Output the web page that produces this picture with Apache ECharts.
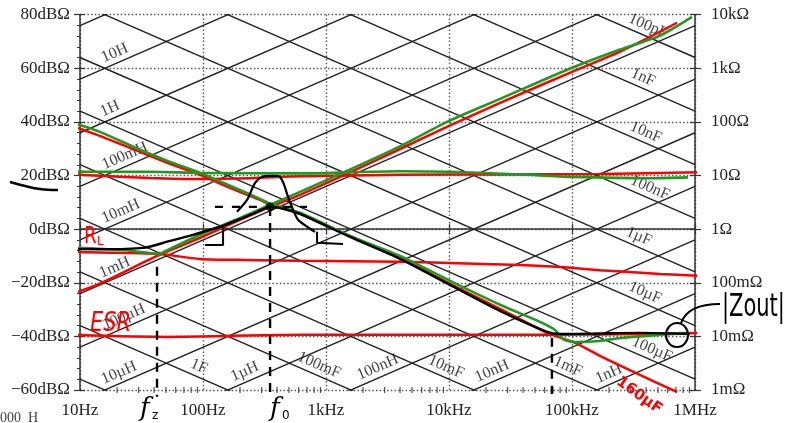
<!DOCTYPE html>
<html><head><meta charset="utf-8">
<script src="https://cdn.jsdelivr.net/npm/echarts@6/dist/echarts.min.js"></script>
<style>html,body{margin:0;padding:0;background:#fff}#c{width:788px;height:423px}</style>
</head><body><div id="c"></div>
<script>
// ---------- axis tick labels ----------
const freqTickLabels = ['10Hz','100Hz','1kHz','10kHz','100kHz','1MHz'];
const ohmTickLabels = ['1mΩ','10mΩ','100mΩ','1Ω','10Ω','100Ω','1kΩ','10kΩ'];
const minorFreqs = [];
[10,100,1000,10000,100000].forEach(d => { for (let k = 2; k <= 9; k++) minorFreqs.push(k*d); });

// ---------- reactance chart lattice ----------
const inductances = [1e-10,1e-9,1e-8,1e-7,1e-6,1e-5,1e-4,1e-3,1e-2,1e-1,1,10,100];
const capacitances = [1e-11,1e-10,1e-9,1e-8,1e-7,1e-6,1e-5,1e-4,1e-3,1e-2,1e-1,1,10];
const inductorLabelText = ['10H','1H','100mH','10mH','1mH','100µH','10µH','1µH','100nH','10nH','1nH'];
const inductorLabelValue = [10,1,0.1,0.01,1e-3,1e-4,1e-5,1e-6,1e-7,1e-8,1e-9];
const inductorLabelFreq = [20.7,18.9,25,23.2,20.7,24.6,22.4,236,2840,24200,215000];
const capacitorLabelText = ['100pF','1nF','10nF','100nF','1µF','10µF','100µF','1mF','10mF','100mF','1F'];
const capacitorLabelValue = [1e-10,1e-9,1e-8,1e-7,1e-6,1e-5,1e-4,1e-3,1e-2,1e-1,1];
const capacitorLabelFreq = [385000,351000,370000,400000,325000,364000,415000,86100,8770,815,86.1];

// ---------- measured / sketched curves  [Hz, dBΩ] ----------
const redTop = [[7.69,20.6],[14.5,19.9],[37.1,19.1],[94.6,18.7],[241,19.0],[615,19.7],[4000,20.3],[26000,20.4],[169000,20.6],[1080000,21.2]];
const greenTop = [[7.69,21.5],[14.5,21.4],[37.1,21.4],[94.6,21.0],[615,20.8],[4000,21.6],[10000,21.4],[37800,20.4],[100000,19.5],[431000,19.0],[877000,19.3]];
const redCap = [[9.63,37.8],[14.5,34.8],[30.8,28.8],[53.9,24.4],[94.6,20.3],[166,15.4],[291,10.9],[351,9.1],[615,5.7],[1374,-1.4],[4000,-10.7],[10190,-20.4],[26000,-29.7],[62600,-38.7],[106000,-42.4],[169000,-47.3],[357000,-54.4],[714000,-60.7]];
const greenCap = [[8.29,40.0],[14.5,36.3],[30.8,29.6],[53.9,25.1],[94.6,21.0],[166,16.2],[291,11.3],[351,9.5],[615,6.1],[1567,-2.5],[4000,-10.0],[10190,-19.3],[26000,-28.2],[54900,-34.6],[72700,-37.6],[84500,-41.0],[106000,-42.1],[169000,-41.7],[246000,-40.6],[519000,-39.4],[877000,-38.7]];
const redRL = [[8.77,-8.5],[14.5,-8.7],[42.3,-9.2],[94.6,-11.1],[241,-11.5],[615,-11.8],[4000,-12.2],[10000,-12.6],[37800,-13.4],[79800,-14.1],[169000,-15.3],[519000,-16.7],[1060000,-17.4]];
const redL = [[8.61,-24.1],[14.5,-20.3],[42.3,-10.0],[94.6,-3.2],[200,3.5],[351,8.3],[615,12.8],[1426,20.3],[4000,29.9],[10000,38.5],[26000,47.1],[100000,58.7],[246000,66.2],[714000,77.0]];
const greenL = [[44.7,-9.2],[94.6,-2.1],[200,4.2],[351,9.1],[615,13.9],[1426,21.4],[4000,30.9],[10000,40.4],[26000,48.6],[100000,60.2],[246000,67.0],[519000,72.2],[945000,79.2]];
const greenRL = [[8.29,-6.8],[21.1,-7.7],[44.7,-9.4]];
const redESR = [[7.98,-39.4],[50.9,-40.2],[615,-39.4],[10000,-39.4],[66200,-39.4],[357000,-39.1],[1210000,-38.7]];
const blackZout = [[7.28,-7.4],[14.5,-7.5],[32.5,-7.0],[53.9,-4.4],[82.9,-2.1],[137,0.9],[200,3.8],[265,6.1],[351,8.3],[464,7.5],[615,5.7],[1567,-2.9],[4000,-11.1],[10190,-20.8],[26000,-30.5],[62600,-38.3],[79800,-39.1],[169000,-38.9],[357000,-38.7],[910000,-39.1]];
const blackBump = [[189,6.5],[228,10.9],[265,17.3],[302,19.5],[338,19.9],[407,19.9],[447,17.6],[491,12.1],[540,7.2],[592,3.5],[701,0.9],[815,-1.0]];
const bracketLeft = [[104,-5.9],[145.6,-5.9],[145.6,0.9]];
const bracketRight = [[846,-1.0],[846,-5.1],[1374,-5.5]];
const crossDash = [[125,8.3],[701,8.3]];
const fzLine = [[42.3,-14],[42.3,-62.5]];
const f0Line = [[351,8.3],[351,-62.5]];
const f3Line = [[68700,-40.5],[68700,-61.5]];
const f0Point = [[351,8.3]];

// ---------- helpers ----------
const zL = (f, L) => 20*Math.log10(2*Math.PI*f*L);
const zC = (f, C) => -20*Math.log10(2*Math.PI*f*C);
const SERIF = '"Liberation Serif","DejaVu Serif",serif';
const ANG = Math.atan(2.68*20/123)*180/Math.PI;

const series = [];
inductances.forEach(L => series.push({type:'line', data:[[10,zL(10,L)],[1e6,zL(1e6,L)]], showSymbol:false, silent:true, z:1,
  lineStyle:{color:'#222', width:1.4}}));
capacitances.forEach(C => series.push({type:'line', data:[[10,zC(10,C)],[1e6,zC(1e6,C)]], showSymbol:false, silent:true, z:1,
  lineStyle:{color:'#222', width:1.4}}));

const lblData = [];
inductorLabelText.forEach((t,i) => {
  const f = inductorLabelFreq[i];
  lblData.push({value:[f, zL(f, inductorLabelValue[i])], label:{formatter:t, rotate:ANG}});
});
capacitorLabelText.forEach((t,i) => {
  const f = capacitorLabelFreq[i];
  lblData.push({value:[f, zC(f, capacitorLabelValue[i])], label:{formatter:t, rotate:-ANG}});
});
series.push({type:'scatter', data:lblData, symbolSize:0.1, itemStyle:{color:'transparent'}, silent:true, z:2,
  label:{show:true, position:[0,0], align:'center', verticalAlign:'middle', offset:[0,-10],
    fontFamily:SERIF, fontSize:16, color:'#111'}});

// minor ticks on frequency axis
series.push({type:'custom', data:minorFreqs.map(f => [f,-60]), silent:true, z:3, clip:false,
  renderItem:(p, api) => { const c = api.coord([api.value(0), api.value(1)]);
    return {type:'line', shape:{x1:c[0], y1:c[1]-3, x2:c[0], y2:c[1]+3}, style:{stroke:'#333', lineWidth:1}}; }});

const curve = (data, color, w, z, extra) => Object.assign({type:'line', data, showSymbol:false, silent:true, clip:false, z,
  smooth:0.25, lineStyle:{color, width:w}}, extra||{});
series.push(curve(redTop,'#ff0000',2.5,4));
series.push(curve(redCap,'#ff0000',2.5,4));
series.push(curve(redRL,'#ff0000',2.5,4));
series.push(curve(redL,'#ff0000',2.5,4));
series.push(curve(redESR,'#ff0000',2.5,4));
series.push(curve(greenTop,'#1f9a1f',2.6,5));
series.push(curve(greenCap,'#1f9a1f',2.6,5));
series.push(curve(greenL,'#1f9a1f',2.6,5));
series.push(curve(greenRL,'#1f9a1f',2.6,5));
series.push(curve(blackZout,'#000',2.4,6));
series.push(curve(blackBump,'#000',2.2,6));
series.push(curve(bracketLeft,'#000',2,6,{smooth:false}));
series.push(curve(bracketRight,'#000',2,6,{smooth:false}));
series.push(curve(crossDash,'#000',2.4,6,{smooth:false, lineStyle:{color:'#000', width:2.4, type:[8,9]}}));
[fzLine, f0Line, f3Line].forEach(d => series.push(curve(d,'#000',2.4,6,{smooth:false, lineStyle:{color:'#000', width:2.4, type:[9,7]}})));
series.push({type:'scatter', data:f0Point, symbolSize:9, itemStyle:{color:'#000'}, silent:true, z:7});

const dotted = {show:true, lineStyle:{color:'#555', width:1.4, type:[1.5,2.2]}};
const chart = echarts.init(document.getElementById('c'), null, {renderer:'canvas'});
chart.setOption({
  animation:false,
  backgroundColor:'#fff',
  grid:{left:80, right:93, top:14.7, bottom:33},
  xAxis:[
    {type:'log', logBase:10, min:10, max:1e6, position:'bottom',
     axisLine:{show:true, lineStyle:{color:'#333', width:1.5}},
     axisTick:{show:true, length:5, lineStyle:{color:'#333', width:1.2}},
     axisLabel:{margin:12, fontFamily:SERIF, fontSize:17, color:'#222',
       formatter:v => freqTickLabels[Math.round(Math.log10(v))-1]},
     splitLine:dotted},
    {type:'log', logBase:10, min:10, max:1e6, position:'bottom',
     axisLine:{show:false}, axisTick:{show:true, inside:true, length:5, lineStyle:{color:'#333', width:1.2}},
     axisLabel:{show:false}, splitLine:{show:false}}
  ],
  yAxis:[
    {type:'value', min:-60, max:80, interval:20, position:'left',
     axisLine:{show:true, lineStyle:{color:'#333', width:1.5}},
     axisTick:{show:true, length:6, lineStyle:{color:'#333', width:1.2}},
     minorTick:{show:true, splitNumber:5, length:3, lineStyle:{color:'#333'}},
     axisLabel:{margin:10, fontFamily:SERIF, fontSize:17, color:'#222',
       formatter:v => (v<0 ? '\u2212'+(-v) : v)+'dBΩ'},
     splitLine:dotted},
    {type:'value', min:-60, max:80, interval:20, position:'right',
     axisLine:{show:true, lineStyle:{color:'#333', width:1.5}},
     axisTick:{show:true, length:6, lineStyle:{color:'#333', width:1.2}},
     axisLabel:{margin:16, fontFamily:SERIF, fontSize:17, color:'#222',
       formatter:v => ohmTickLabels[Math.round((v+60)/20)]},
     splitLine:{show:false}},
    {type:'value', min:-60, max:80, interval:20, position:'left',
     axisLine:{show:false}, axisTick:{show:true, inside:true, length:5, lineStyle:{color:'#333', width:1.2}},
     axisLabel:{show:false}, splitLine:{show:false}},
    {type:'value', min:-60, max:80, interval:20, position:'right',
     axisLine:{show:false}, axisTick:{show:true, inside:true, length:5, lineStyle:{color:'#333', width:1.2}},
     axisLabel:{show:false}, splitLine:{show:false}}
  ],
  series,
  graphic:[
    {type:'polyline', z:20, shape:{points:[[10,182],[25,186],[40,189],[58,190]], smooth:0.4}, style:{stroke:'#000', lineWidth:2.5, fill:null}},
    {type:'text', z:20, x:84, y:225, scaleY:1.3, style:{text:'R', fill:'#ff0000', font:'18px "DejaVu Sans"'}},
    {type:'text', z:20, x:97, y:236, style:{text:'L', fill:'#ff0000', font:'12px "DejaVu Sans"'}},
    {type:'text', z:20, x:90, y:311, scaleY:1.25, style:{text:'ESR', fill:'#ff0000', font:'italic 21px "DejaVu Sans"'}},
    {type:'text', z:20, x:622, y:374, rotation:-0.62, style:{text:'160µF', fill:'#ff0000', font:'bold 15px "DejaVu Sans"', align:'left', verticalAlign:'top'}},
    {type:'text', z:20, x:140, y:396, style:{text:'f', fill:'#000', font:'italic 26px "DejaVu Serif"'}},
    {type:'text', z:20, x:152, y:410, style:{text:'z', fill:'#000', font:'12px "DejaVu Sans"'}},
    {type:'text', z:20, x:270, y:396, style:{text:'f', fill:'#000', font:'italic 26px "DejaVu Serif"'}},
    {type:'text', z:20, x:282, y:410, style:{text:'0', fill:'#000', font:'12px "DejaVu Sans"'}},
    {type:'ellipse', z:20, shape:{cx:677, cy:335, rx:11, ry:12}, style:{fill:null, stroke:'#000', lineWidth:2}},
    {type:'bezierCurve', z:20, shape:{x1:681, y1:323, cpx1:688, cpy1:304, x2:720, y2:304}, style:{stroke:'#000', lineWidth:2, fill:null}},
    {type:'text', z:20, x:722, y:292, scaleY:1.5, style:{text:'|Zout|', fill:'#000', font:'21px "DejaVu Sans"'}},
    {type:'text', z:20, x:0, y:411, style:{text:'000  H', fill:'#444', font:'14px "Liberation Serif"'}}
  ]
});
</script></body></html>
